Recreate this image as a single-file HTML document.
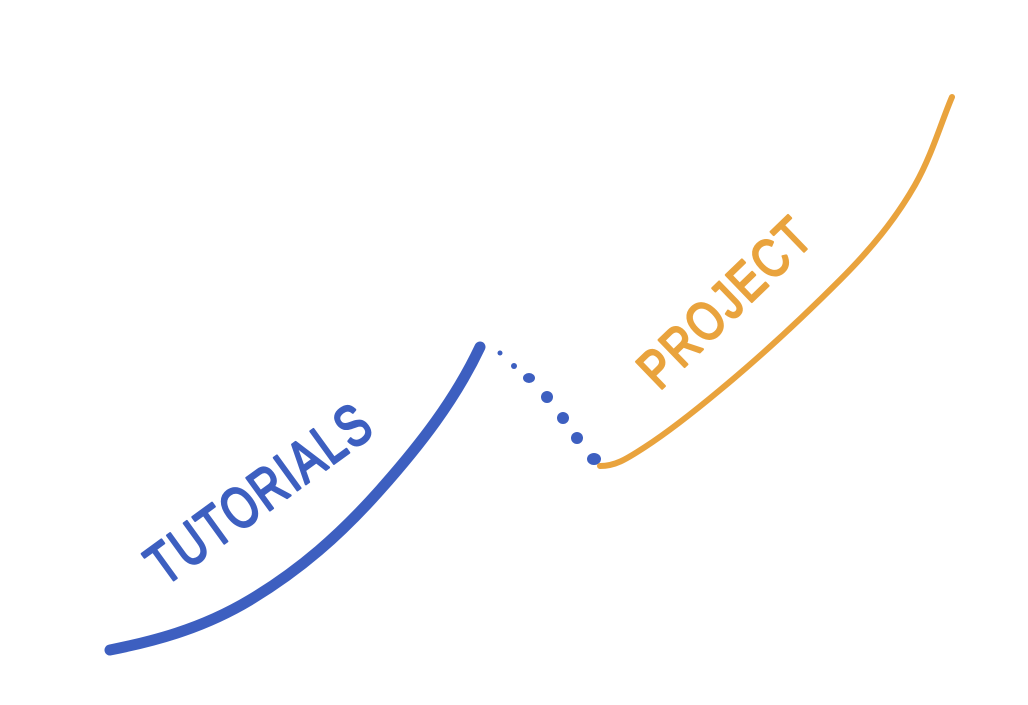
<!DOCTYPE html>
<html><head><meta charset="utf-8"><style>
html,body{margin:0;padding:0;background:#fff;width:1028px;height:705px;overflow:hidden}
</style></head><body>
<svg width="1028" height="705" viewBox="0 0 1028 705" xmlns="http://www.w3.org/2000/svg">
<path d="M110,650 C150,642 200,630 250,600 C300,570 340,535 380,490 C420,445 455,400 480,347" fill="none" stroke="#3d5fc0" stroke-width="11" stroke-linecap="round"/>
<g fill="#3d5fc0">
<circle cx="500" cy="353" r="2.5"/>
<circle cx="514" cy="366" r="3"/>
<ellipse cx="529" cy="378" rx="6" ry="5"/>
<ellipse cx="547" cy="397" rx="6" ry="6"/>
<ellipse cx="563" cy="418" rx="6" ry="6"/>
<ellipse cx="577" cy="438" rx="6" ry="6"/>
<ellipse cx="594" cy="459" rx="7" ry="6"/>
</g>
<path d="M600,466 C615,466 625,460 645,447 C665,434 690,415 720,390 C760,357 800,320 840,280 C870,250 895,220 915,185 C932,155 942,120 952,97" fill="none" stroke="#e9a33d" stroke-width="6" stroke-linecap="round"/>
<text x="0" y="0" transform="translate(262,497) rotate(-36) scale(0.75,1)" text-anchor="middle" dominant-baseline="middle" font-family="Liberation Sans, sans-serif" font-size="58" fill="#3d5fc0" stroke="#3d5fc0" stroke-width="2.5" stroke-linejoin="round" letter-spacing="3">TUTORIALS</text>
<text x="0" y="0" transform="translate(728,305) rotate(-44) scale(0.8,1)" text-anchor="middle" dominant-baseline="middle" font-family="Liberation Sans, sans-serif" font-size="54" fill="#e9a33d" stroke="#e9a33d" stroke-width="2.5" stroke-linejoin="round" letter-spacing="3">PROJECT</text>
</svg>
</body></html>
